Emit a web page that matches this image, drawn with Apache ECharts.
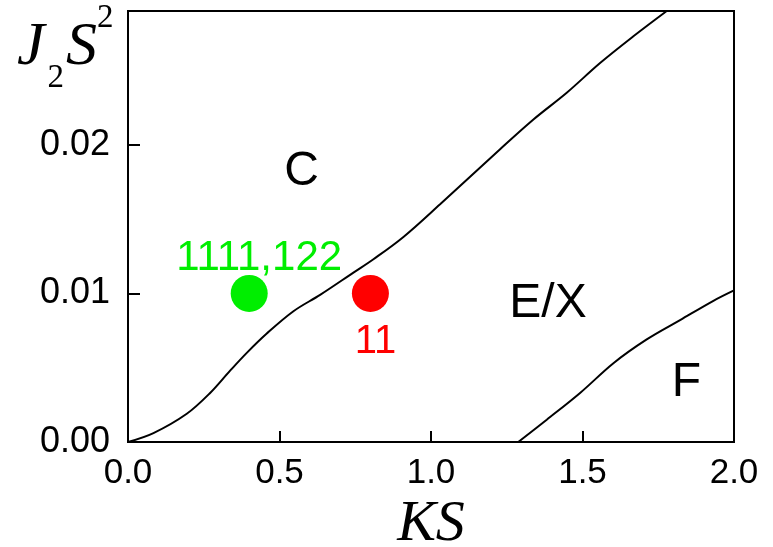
<!DOCTYPE html>
<html>
<head>
<meta charset="utf-8">
<script src="https://cdn.jsdelivr.net/npm/echarts@6/dist/echarts.min.js"></script>
<style>
  html, body { margin: 0; padding: 0; background: #fff; }
  #chart { width: 773px; height: 547px; }
</style>
</head>
<body>
<div id="chart"></div>
<script>
// phase boundary C | E/X
const upperX = [0, 0.084, 0.194, 0.271, 0.337, 0.392, 0.458, 0.546, 0.634, 0.744, 0.81, 0.909, 1.03, 1.228, 1.338, 1.448, 1.558, 1.668, 1.778]
const upperY = [0, 0.0006, 0.0019, 0.0033, 0.0048, 0.006, 0.0073, 0.0088, 0.0099, 0.0114, 0.0123, 0.0138, 0.016, 0.0197, 0.0217, 0.0235, 0.0255, 0.0273, 0.029]
// phase boundary E/X | F
const lowerX = [1.288, 1.382, 1.492, 1.602, 1.712, 1.822, 1.932, 2.0]
const lowerY = [0, 0.0015, 0.0033, 0.0053, 0.0069, 0.0082, 0.0095, 0.0102]

const greenPoint = [0.4, 0.01]
const greenLabel = '1111,122'
const redPoint = [0.8, 0.01]
const redLabel = '11'

const regionNames = ['C', 'E/X', 'F']
const regionX = [0.573, 1.386, 1.843]
const regionY = [0.0182, 0.0093, 0.004]

const xTicks = { min: 0, max: 2, interval: 0.5 }
const yTicks = { min: 0, max: 0.029, interval: 0.01 }

const zip = (xs, ys) => xs.map((x, i) => [x, ys[i]])

const chart = echarts.init(document.getElementById('chart'))
const sans = 'Liberation Sans'
const serif = 'Liberation Serif'

const big = { fontFamily: serif, fontStyle: 'italic', fontWeight: 'normal', fontSize: 62, lineHeight: 62, padding: [15, 0, 0, 0], verticalAlign: 'top', color: '#000' }

const option = {
    animation: false,
    title: {
        text: '{J|J}{sub|2}{S|S}{sup|2}',
        left: 17,
        top: 2,
        padding: 0,
        textStyle: {
            fontWeight: 'normal',
            rich: {
                J: big,
                S: big,
                sub: { fontFamily: serif, fontWeight: 'normal', fontSize: 33, lineHeight: 33, padding: [60, 2, 0, 3], verticalAlign: 'top', color: '#000' },
                sup: { fontFamily: serif, fontWeight: 'normal', fontSize: 33, lineHeight: 33, padding: [0, 0, 0, 0], verticalAlign: 'top', color: '#000' }
            }
        }
    },
    grid: {
        left: 128, right: 39, top: 11, bottom: 105,
        outerBoundsMode: 'none',
        containLabel: false,
        show: true, borderColor: '#000', borderWidth: 2
    },
    xAxis: {
        type: 'value',
        min: xTicks.min, max: xTicks.max, interval: xTicks.interval,
        name: 'KS',
        nameLocation: 'middle',
        nameGap: 48,
        nameTextStyle: { fontFamily: serif, fontStyle: 'italic', fontSize: 58, color: '#000' },
        axisLine: { lineStyle: { color: '#000', width: 2 } },
        axisTick: { inside: true, length: 11, lineStyle: { color: '#000', width: 2 } },
        axisLabel: { fontFamily: sans, fontSize: 35, color: '#000', margin: 14, formatter: v => v.toFixed(1) },
        splitLine: { show: false }
    },
    yAxis: {
        type: 'value',
        min: yTicks.min, max: yTicks.max, interval: yTicks.interval,
        axisLine: { lineStyle: { color: '#000', width: 2 } },
        axisTick: { inside: true, length: 12, lineStyle: { color: '#000', width: 2 } },
        axisLabel: { fontFamily: sans, fontSize: 36, color: '#000', margin: 18, showMaxLabel: false, formatter: v => v.toFixed(2) },
        splitLine: { show: false }
    },
    series: [
        {
            type: 'line', data: zip(upperX, upperY), smooth: 0.35, showSymbol: false,
            lineStyle: { color: '#000', width: 2 }
        },
        {
            type: 'line', data: zip(lowerX, lowerY), smooth: 0.35, showSymbol: false,
            lineStyle: { color: '#000', width: 2 }
        },
        {
            type: 'scatter', data: [greenPoint], symbolSize: 37,
            itemStyle: { color: '#00ee00', opacity: 1 },
            label: { show: true, formatter: greenLabel, position: 'top', distance: -5, offset: [10, 0], fontFamily: sans, fontSize: 42, color: '#00ee00' }
        },
        {
            type: 'scatter', data: [redPoint], symbolSize: 37,
            itemStyle: { color: '#ff0000', opacity: 1 },
            label: { show: true, formatter: redLabel, position: 'bottom', distance: 10, offset: [5, 0], fontFamily: sans, fontSize: 40, color: '#ff0000' }
        },
        {
            type: 'scatter', data: zip(regionX, regionY).map((p, i) => ({ value: p, name: regionNames[i] })),
            symbolSize: 0,
            itemStyle: { opacity: 1 },
            label: { show: true, formatter: '{b}', position: 'inside', fontFamily: sans, fontSize: 48, color: '#000' }
        }
    ]
}

chart.setOption(option)
</script>
</body>
</html>
